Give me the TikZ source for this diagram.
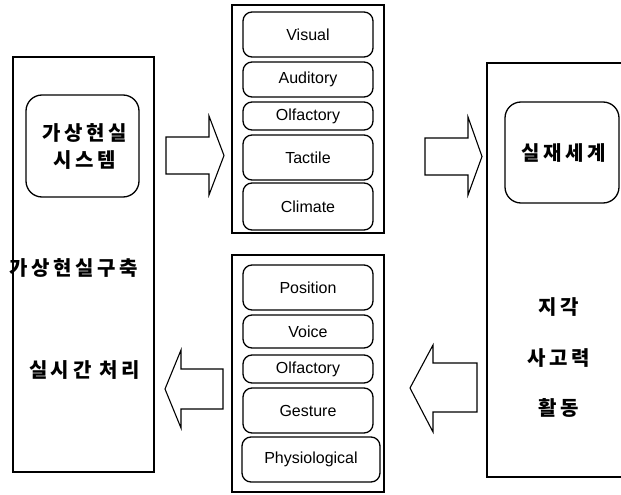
\documentclass[tikz,border=0pt]{standalone}
\usepackage{fontspec}
\setmainfont{Liberation Sans}
\newfontfamily\kr{Noto Sans CJK KR}[LetterSpace=18]
\begin{document}
\begin{tikzpicture}[x=1pt,y=-1pt,
  outer/.style={draw, line width=1.3pt, rectangle, inner sep=0pt},
  rbox/.style={draw, line width=1.3pt, rectangle, rounded corners=9pt, inner sep=0pt,
    font=\fontsize{16}{19}\selectfont},
  kbox/.style={draw, line width=1.3pt, rectangle, rounded corners=16pt, inner sep=0pt, align=center,
    font=\kr\bfseries\fontsize{20}{27}\selectfont},
  ktext/.style={inner sep=0pt, font=\kr\bfseries\fontsize{20}{22}\selectfont},
  blockarrow/.style={draw, line width=1.1pt, fill=white, line join=miter}]
\useasboundingbox (0,0) rectangle (621,495);
\clip (0,0) rectangle (621,495);
% left box
\node[outer, minimum width=141, minimum height=415] (left) at (83.5,264.5) {};
\node[kbox, minimum width=113, minimum height=102] (vrs) at (82.5,146) {\hspace*{4pt}가상현실\\\hspace*{4pt}시스템};
\node[ktext] (build) at (74,268) {가상현실구축};
\node[ktext] (rt) at (84.5,370) {실시간 처리};
% middle top
\node[outer, minimum width=152, minimum height=228] (mtop) at (308,119) {};
\node[rbox, minimum width=130, minimum height=45] (visual) at (308,34.5) {Visual};
\node[rbox, minimum width=130, minimum height=35] (auditory) at (308,79.5) {Auditory};
\node[rbox, minimum width=130, minimum height=28] (olf1) at (308,116) {Olfactory};
\node[rbox, minimum width=130, minimum height=45] (tactile) at (308,157.5) {Tactile};
\node[rbox, minimum width=130, minimum height=47] (climate) at (308,206.5) {Climate};
% middle bottom
\node[outer, minimum width=152, minimum height=237] (mbot) at (308,373.5) {};
\node[rbox, minimum width=130, minimum height=45] (position) at (308,287.5) {Position};
\node[rbox, minimum width=130, minimum height=33] (voice) at (308,331.5) {Voice};
\node[rbox, minimum width=130, minimum height=28] (olf2) at (308,369) {Olfactory};
\node[rbox, minimum width=130, minimum height=45] (gesture) at (308,410.5) {Gesture};
\node[rbox, minimum width=138, minimum height=45] (physio) at (311,459.5) {Physiological};
% right box
\node[outer, minimum width=153, minimum height=414] (right) at (563.5,270) {};
\node[kbox, minimum width=114, minimum height=101] (real) at (562,152.5) {\hspace*{4pt}실재세계};
\node[ktext] (perc) at (559,307) {지각};
\node[ktext] (think) at (559,358) {사고력};
\node[ktext] (act) at (559,408) {활동};
% block arrows
\draw[blockarrow] (166,137) -- (209,137) -- (209,116) -- (224,155.5) -- (209,195) -- (209,174) -- (166,174) -- cycle;
\draw[blockarrow] (425,138) -- (468,138) -- (468,117) -- (482,156.5) -- (468,195) -- (468,175) -- (425,175) -- cycle;
\draw[blockarrow] (223,369) -- (181,369) -- (181,350) -- (165,389) -- (181,428) -- (181,409) -- (223,409) -- cycle;
\draw[blockarrow] (477,363) -- (433,363) -- (433,345) -- (410,388) -- (433,432) -- (433,412) -- (477,412) -- cycle;
\end{tikzpicture}
\end{document}
